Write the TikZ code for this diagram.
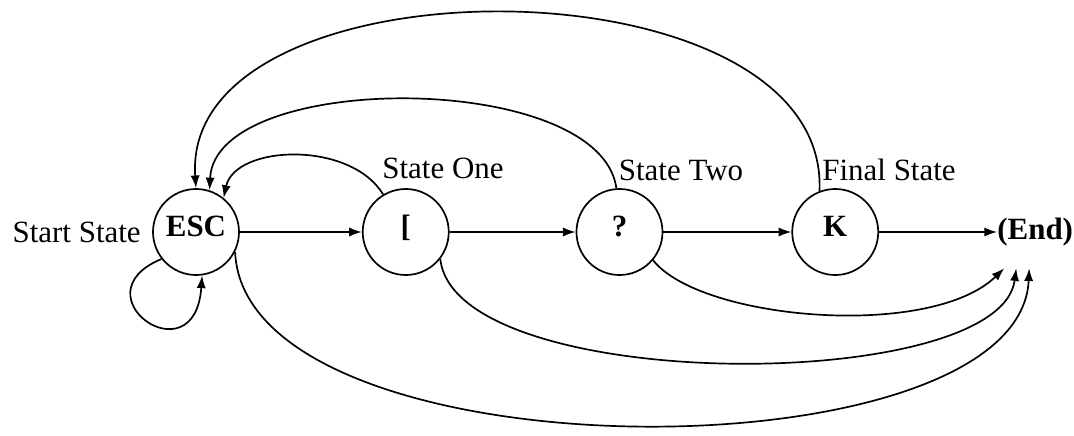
\documentclass[tikz,border=0pt]{standalone}
\usepackage{fontspec}
\setmainfont{Liberation Serif}
\usetikzlibrary{arrows.meta,positioning,calc}
\tikzset{
  st/.style={circle,draw,line width=1.2pt,minimum size=2.15cm,inner sep=0pt,text height=1.5ex,text depth=.25ex,font=\fontsize{22}{26}\selectfont\bfseries},
  lbl/.style={inner sep=0pt,font=\fontsize{22}{26}\selectfont},
  arr/.style={->,>={Latex[length=9pt,width=6.5pt]},line width=1.2pt},
}

\begin{document}
\begin{tikzpicture}[x=0.025cm,y=-0.025cm]
  \useasboundingbox (0,0) rectangle (1074,435);
  % states in a row
  \node[st] (esc) at (196,232) {ESC};
  \node[st,right=3.05cm of esc] (br) {[};
  \node[st,right=3.15cm of br] (qm) {?};
  \node[st,right=3.2cm of qm] (k) {K};
  \node[lbl,font=\fontsize{22}{26}\selectfont\bfseries,minimum height=1.8cm,right=2.95cm of k] (fin) {(End)};
  % labels
  \node[lbl,left=0.28cm of esc] (start) {Start State};
  \node[lbl] (one) at (443,168) {State One};
  \node[lbl] (two) at (681,170) {State Two};
  \node[lbl] (final) at (889,170) {Final State};
  % entry points below (End)
  \coordinate (in1) at ($(fin.south)+(-31,0)$);
  \coordinate (in2) at ($(fin.south)+(-19,0)$);
  \coordinate (in3) at ($(fin.south)+(-6,0)$);
  % forward
  \draw[arr] (esc) -- (br);
  \draw[arr] (br) -- (qm);
  \draw[arr] (qm) -- (k);
  \draw[arr] (k) -- (fin);
  % back to ESC
  \draw[arr] (br.121) .. controls (350,140) and (235,145) .. (esc.51);
  \draw[arr] (qm.94) .. controls (600,70) and (215,70) .. (esc.72);
  \draw[arr] (k.111) .. controls (830,-46) and (180,-46) .. (esc.90);
  \draw[arr] (esc.218) .. controls (75,295) and (195,380) .. (esc.-82);
  % on to (End)
  \draw[arr] (qm.-40) .. controls (700,320) and (930,340) .. (in1);
  \draw[arr] (br.-38) .. controls (455,395) and (1000,395) .. (in2);
  \draw[arr] (esc.-27) .. controls (245,480) and (1020,480) .. (in3);
\end{tikzpicture}
\end{document}
